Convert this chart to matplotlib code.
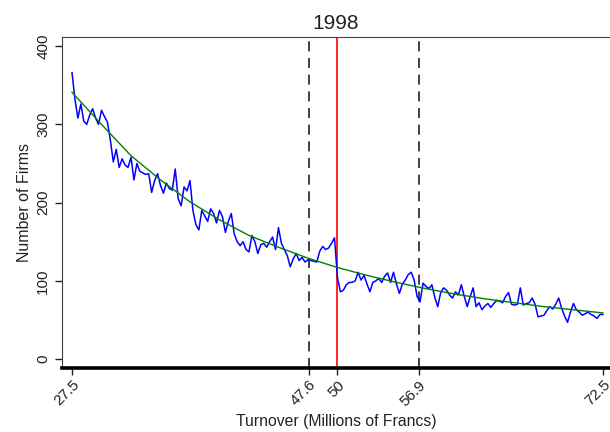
import numpy as np
import matplotlib
matplotlib.use("Agg")
import matplotlib.pyplot as plt

plt.rcParams['font.family'] = ['Liberation Sans', 'DejaVu Sans']

# firm counts per turnover bin (bins of 0.25 from 27.5 to 72.5)
counts_a = [366, 332, 308, 326, 304, 300, 312, 320, 308, 300, 318, 310, 303, 280, 252,
            268, 245, 256, 248, 245, 258, 229, 250, 240, 238, 236, 237, 213, 228, 237,
            222, 212, 225, 218, 216]
counts_b = [243, 205, 196, 220, 215, 228, 190, 172, 165, 190, 183, 176, 192, 186, 174,
            190, 182, 162, 176, 186, 160, 150, 145, 150, 140, 137, 158, 150, 135, 146,
            148, 143, 150, 156, 140, 168, 148, 140, 132, 118, 128, 135, 126, 130, 124,
            127, 126, 125, 124, 138, 144, 140, 142, 148, 155]
counts_c = [104, 86, 88, 95, 98, 98, 100, 111, 101, 107, 96, 86, 98, 100, 103,
            98, 106, 110, 98, 111, 96, 84, 96, 101, 108, 111, 101, 80, 73, 97,
            93, 90, 95, 79, 67, 85, 91, 88, 82, 78, 86, 82, 95, 80, 67,
            80, 91, 67, 72, 63, 68, 71, 66, 71, 75, 74, 72, 80, 85, 70,
            69, 70, 91, 69, 71, 72, 78, 70, 54, 55, 56, 62, 67, 64, 70,
            78, 65, 55, 47, 60, 71, 63, 60, 56, 58, 60, 57, 55, 52, 57, 57]
counts = counts_a + counts_b + counts_c
turnover = np.linspace(27.5, 72.5, len(counts))

# smooth fitted curve
fit_x = [27.5, 30, 32.5, 35, 37.5, 40, 42.5, 45, 47.5, 50, 52.5, 55, 57.5, 60,
         62.5, 65, 67.5, 70, 72.5]
fit_y = [341, 300, 260, 229, 201, 178, 158, 143, 129, 117, 107, 98, 90, 83,
         77, 72, 67, 63, 59]

ticks_x = [27.5, 47.6, 50, 56.9, 72.5]
tick_labels_x = ['27.5', '47.6', '50', '56.9', '72.5']
ticks_y = [0, 100, 200, 300, 400]

fig = plt.figure(figsize=(6.1, 4.32), dpi=100)
ax = fig.add_axes([0.1016, 0.148, 0.8984, 0.766])

ax.plot(turnover, counts, color='#0000ff', lw=1.1, zorder=3)
ax.plot(fit_x, fit_y, color='#008000', lw=1.0, zorder=4)

ax.axvline(47.6, color='#202020', lw=1.2, ls=(0, (6, 4)), zorder=2)
ax.axvline(56.9, color='#202020', lw=1.2, ls=(0, (6, 4)), zorder=2)
ax.axvline(50, color='#ff0000', lw=1.2, zorder=2)

ax.set_xlim(26.65, 73.1)
ax.set_ylim(-11.5, 411.5)

ax.set_xticks(ticks_x)
ax.set_xticklabels(tick_labels_x, rotation=45, ha='right', rotation_mode='anchor')
ax.set_yticks(ticks_y)
ax.set_yticklabels([str(v) for v in ticks_y], rotation=90, va='center')
ax.tick_params(axis='both', labelsize=11, colors='#222222', length=5, width=1)
ax.tick_params(axis='x', pad=2)

ax.spines['right'].set_visible(False)
ax.spines['bottom'].set_linewidth(2.6)
ax.spines['bottom'].set_color('black')
ax.spines['left'].set_color('#404040')
ax.spines['top'].set_color('#404040')

ax.set_title('1998', fontsize=15, color='#222222', pad=6)
ax.set_xlabel('Turnover (Millions of Francs)', fontsize=11.3, color='#222222', labelpad=4)
ax.set_ylabel('Number of Firms', fontsize=11.5, color='#222222', labelpad=3)

plt.savefig('out.png', dpi=100)
